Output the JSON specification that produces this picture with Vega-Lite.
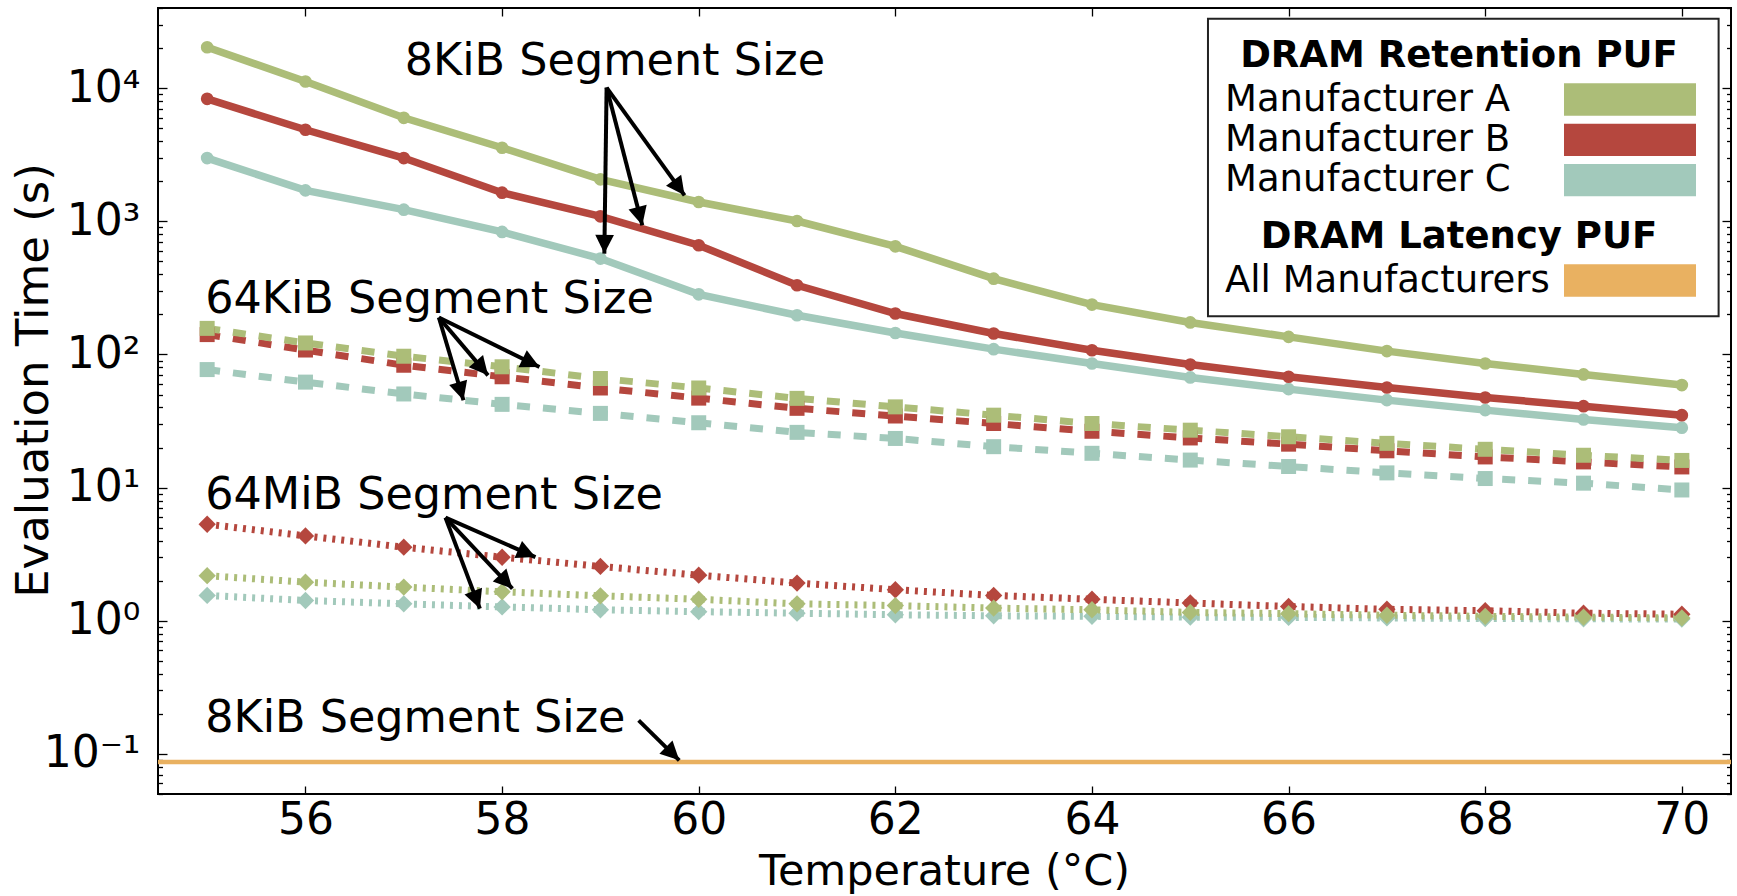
{
  "$schema": "https://vega.github.io/schema/vega-lite/v6.json",
  "usermeta": {"embedOptions": {"actions": false}},
  "width": 1573,
  "height": 786,
  "autosize": {"type": "none"},
  "padding": {"left": 158, "top": 8, "right": 6, "bottom": 102},
  "background": "white",
  "config": {
    "font": "DejaVu Sans",
    "view": {"stroke": "black", "strokeWidth": 2},
    "axis": {"domain": false, "grid": false, "labelFont": "DejaVu Sans", "titleFont": "DejaVu Sans", "tickColor": "black", "tickWidth": 1.3, "labelColor": "black", "titleColor": "black", "titleFontWeight": "normal", "labelOverlap": false, "labelFlush": false, "labelBound": false},
    "legend": {"labelFont": "DejaVu Sans", "titleFont": "DejaVu Sans", "orient": "none", "direction": "vertical", "padding": 0,
      "symbolType": "M-4,-0.98H4V0.98H-4Z", "symbolSize": 1089, "symbolStrokeWidth": 0, "symbolOffset": 390.5, "labelOffset": -423.5,
      "labelFontSize": 37, "labelColor": "black", "labelLimit": 1000, "titleFontSize": 37, "titleFontWeight": "bold", "titleColor": "black",
      "titleAnchor": "middle", "titleLimit": 1000, "titlePadding": 6, "rowPadding": 2.3, "symbolOpacity": 1}
  },
  "datasets": {
    "series": [
      {"mfr": "Manufacturer C", "seg": "64MiB", "temp": 55, "time": 1.55},
      {"mfr": "Manufacturer C", "seg": "64MiB", "temp": 56, "time": 1.42},
      {"mfr": "Manufacturer C", "seg": "64MiB", "temp": 57, "time": 1.34},
      {"mfr": "Manufacturer C", "seg": "64MiB", "temp": 58, "time": 1.27},
      {"mfr": "Manufacturer C", "seg": "64MiB", "temp": 59, "time": 1.21},
      {"mfr": "Manufacturer C", "seg": "64MiB", "temp": 60, "time": 1.17},
      {"mfr": "Manufacturer C", "seg": "64MiB", "temp": 61, "time": 1.14},
      {"mfr": "Manufacturer C", "seg": "64MiB", "temp": 62, "time": 1.11},
      {"mfr": "Manufacturer C", "seg": "64MiB", "temp": 63, "time": 1.09},
      {"mfr": "Manufacturer C", "seg": "64MiB", "temp": 64, "time": 1.08},
      {"mfr": "Manufacturer C", "seg": "64MiB", "temp": 65, "time": 1.065},
      {"mfr": "Manufacturer C", "seg": "64MiB", "temp": 66, "time": 1.06},
      {"mfr": "Manufacturer C", "seg": "64MiB", "temp": 67, "time": 1.05},
      {"mfr": "Manufacturer C", "seg": "64MiB", "temp": 68, "time": 1.04},
      {"mfr": "Manufacturer C", "seg": "64MiB", "temp": 69, "time": 1.035},
      {"mfr": "Manufacturer C", "seg": "64MiB", "temp": 70, "time": 1.03},
      {"mfr": "Manufacturer B", "seg": "64MiB", "temp": 55, "time": 5.31},
      {"mfr": "Manufacturer B", "seg": "64MiB", "temp": 56, "time": 4.34},
      {"mfr": "Manufacturer B", "seg": "64MiB", "temp": 57, "time": 3.57},
      {"mfr": "Manufacturer B", "seg": "64MiB", "temp": 58, "time": 3.0},
      {"mfr": "Manufacturer B", "seg": "64MiB", "temp": 59, "time": 2.56},
      {"mfr": "Manufacturer B", "seg": "64MiB", "temp": 60, "time": 2.2},
      {"mfr": "Manufacturer B", "seg": "64MiB", "temp": 61, "time": 1.92},
      {"mfr": "Manufacturer B", "seg": "64MiB", "temp": 62, "time": 1.71},
      {"mfr": "Manufacturer B", "seg": "64MiB", "temp": 63, "time": 1.55},
      {"mfr": "Manufacturer B", "seg": "64MiB", "temp": 64, "time": 1.45},
      {"mfr": "Manufacturer B", "seg": "64MiB", "temp": 65, "time": 1.36},
      {"mfr": "Manufacturer B", "seg": "64MiB", "temp": 66, "time": 1.28},
      {"mfr": "Manufacturer B", "seg": "64MiB", "temp": 67, "time": 1.22},
      {"mfr": "Manufacturer B", "seg": "64MiB", "temp": 68, "time": 1.19},
      {"mfr": "Manufacturer B", "seg": "64MiB", "temp": 69, "time": 1.14},
      {"mfr": "Manufacturer B", "seg": "64MiB", "temp": 70, "time": 1.12},
      {"mfr": "Manufacturer A", "seg": "64MiB", "temp": 55, "time": 2.18},
      {"mfr": "Manufacturer A", "seg": "64MiB", "temp": 56, "time": 1.95},
      {"mfr": "Manufacturer A", "seg": "64MiB", "temp": 57, "time": 1.79},
      {"mfr": "Manufacturer A", "seg": "64MiB", "temp": 58, "time": 1.65},
      {"mfr": "Manufacturer A", "seg": "64MiB", "temp": 59, "time": 1.54},
      {"mfr": "Manufacturer A", "seg": "64MiB", "temp": 60, "time": 1.45},
      {"mfr": "Manufacturer A", "seg": "64MiB", "temp": 61, "time": 1.34},
      {"mfr": "Manufacturer A", "seg": "64MiB", "temp": 62, "time": 1.30},
      {"mfr": "Manufacturer A", "seg": "64MiB", "temp": 63, "time": 1.245},
      {"mfr": "Manufacturer A", "seg": "64MiB", "temp": 64, "time": 1.21},
      {"mfr": "Manufacturer A", "seg": "64MiB", "temp": 65, "time": 1.155},
      {"mfr": "Manufacturer A", "seg": "64MiB", "temp": 66, "time": 1.13},
      {"mfr": "Manufacturer A", "seg": "64MiB", "temp": 67, "time": 1.10},
      {"mfr": "Manufacturer A", "seg": "64MiB", "temp": 68, "time": 1.08},
      {"mfr": "Manufacturer A", "seg": "64MiB", "temp": 69, "time": 1.065},
      {"mfr": "Manufacturer A", "seg": "64MiB", "temp": 70, "time": 1.05},
      {"mfr": "Manufacturer C", "seg": "64KiB", "temp": 55, "time": 77},
      {"mfr": "Manufacturer C", "seg": "64KiB", "temp": 56, "time": 62},
      {"mfr": "Manufacturer C", "seg": "64KiB", "temp": 57, "time": 50.5},
      {"mfr": "Manufacturer C", "seg": "64KiB", "temp": 58, "time": 42.2},
      {"mfr": "Manufacturer C", "seg": "64KiB", "temp": 59, "time": 36.1},
      {"mfr": "Manufacturer C", "seg": "64KiB", "temp": 60, "time": 30.7},
      {"mfr": "Manufacturer C", "seg": "64KiB", "temp": 61, "time": 26},
      {"mfr": "Manufacturer C", "seg": "64KiB", "temp": 62, "time": 23.4},
      {"mfr": "Manufacturer C", "seg": "64KiB", "temp": 63, "time": 20.3},
      {"mfr": "Manufacturer C", "seg": "64KiB", "temp": 64, "time": 18.1},
      {"mfr": "Manufacturer C", "seg": "64KiB", "temp": 65, "time": 16.1},
      {"mfr": "Manufacturer C", "seg": "64KiB", "temp": 66, "time": 14.4},
      {"mfr": "Manufacturer C", "seg": "64KiB", "temp": 67, "time": 12.9},
      {"mfr": "Manufacturer C", "seg": "64KiB", "temp": 68, "time": 11.7},
      {"mfr": "Manufacturer C", "seg": "64KiB", "temp": 69, "time": 10.8},
      {"mfr": "Manufacturer C", "seg": "64KiB", "temp": 70, "time": 9.6},
      {"mfr": "Manufacturer B", "seg": "64KiB", "temp": 55, "time": 141},
      {"mfr": "Manufacturer B", "seg": "64KiB", "temp": 56, "time": 108},
      {"mfr": "Manufacturer B", "seg": "64KiB", "temp": 57, "time": 83},
      {"mfr": "Manufacturer B", "seg": "64KiB", "temp": 58, "time": 68},
      {"mfr": "Manufacturer B", "seg": "64KiB", "temp": 59, "time": 56},
      {"mfr": "Manufacturer B", "seg": "64KiB", "temp": 60, "time": 47},
      {"mfr": "Manufacturer B", "seg": "64KiB", "temp": 61, "time": 39.4},
      {"mfr": "Manufacturer B", "seg": "64KiB", "temp": 62, "time": 34.5},
      {"mfr": "Manufacturer B", "seg": "64KiB", "temp": 63, "time": 30.3},
      {"mfr": "Manufacturer B", "seg": "64KiB", "temp": 64, "time": 26.5},
      {"mfr": "Manufacturer B", "seg": "64KiB", "temp": 65, "time": 23.6},
      {"mfr": "Manufacturer B", "seg": "64KiB", "temp": 66, "time": 21.2},
      {"mfr": "Manufacturer B", "seg": "64KiB", "temp": 67, "time": 18.9},
      {"mfr": "Manufacturer B", "seg": "64KiB", "temp": 68, "time": 17.0},
      {"mfr": "Manufacturer B", "seg": "64KiB", "temp": 69, "time": 15.6},
      {"mfr": "Manufacturer B", "seg": "64KiB", "temp": 70, "time": 14.3},
      {"mfr": "Manufacturer A", "seg": "64KiB", "temp": 55, "time": 157},
      {"mfr": "Manufacturer A", "seg": "64KiB", "temp": 56, "time": 122},
      {"mfr": "Manufacturer A", "seg": "64KiB", "temp": 57, "time": 97},
      {"mfr": "Manufacturer A", "seg": "64KiB", "temp": 58, "time": 80.8},
      {"mfr": "Manufacturer A", "seg": "64KiB", "temp": 59, "time": 66},
      {"mfr": "Manufacturer A", "seg": "64KiB", "temp": 60, "time": 56},
      {"mfr": "Manufacturer A", "seg": "64KiB", "temp": 61, "time": 46.8},
      {"mfr": "Manufacturer A", "seg": "64KiB", "temp": 62, "time": 40.4},
      {"mfr": "Manufacturer A", "seg": "64KiB", "temp": 63, "time": 35},
      {"mfr": "Manufacturer A", "seg": "64KiB", "temp": 64, "time": 30.3},
      {"mfr": "Manufacturer A", "seg": "64KiB", "temp": 65, "time": 27},
      {"mfr": "Manufacturer A", "seg": "64KiB", "temp": 66, "time": 24.1},
      {"mfr": "Manufacturer A", "seg": "64KiB", "temp": 67, "time": 21.5},
      {"mfr": "Manufacturer A", "seg": "64KiB", "temp": 68, "time": 19.4},
      {"mfr": "Manufacturer A", "seg": "64KiB", "temp": 69, "time": 17.5},
      {"mfr": "Manufacturer A", "seg": "64KiB", "temp": 70, "time": 16.0},
      {"mfr": "Manufacturer C", "seg": "8KiB", "temp": 55, "time": 2985},
      {"mfr": "Manufacturer C", "seg": "8KiB", "temp": 56, "time": 1708},
      {"mfr": "Manufacturer C", "seg": "8KiB", "temp": 57, "time": 1223},
      {"mfr": "Manufacturer C", "seg": "8KiB", "temp": 58, "time": 832},
      {"mfr": "Manufacturer C", "seg": "8KiB", "temp": 59, "time": 525},
      {"mfr": "Manufacturer C", "seg": "8KiB", "temp": 60, "time": 283},
      {"mfr": "Manufacturer C", "seg": "8KiB", "temp": 61, "time": 197},
      {"mfr": "Manufacturer C", "seg": "8KiB", "temp": 62, "time": 145},
      {"mfr": "Manufacturer C", "seg": "8KiB", "temp": 63, "time": 109.6},
      {"mfr": "Manufacturer C", "seg": "8KiB", "temp": 64, "time": 85.6},
      {"mfr": "Manufacturer C", "seg": "8KiB", "temp": 65, "time": 67.2},
      {"mfr": "Manufacturer C", "seg": "8KiB", "temp": 66, "time": 54.9},
      {"mfr": "Manufacturer C", "seg": "8KiB", "temp": 67, "time": 45.4},
      {"mfr": "Manufacturer C", "seg": "8KiB", "temp": 68, "time": 38.2},
      {"mfr": "Manufacturer C", "seg": "8KiB", "temp": 69, "time": 32.5},
      {"mfr": "Manufacturer C", "seg": "8KiB", "temp": 70, "time": 28.2},
      {"mfr": "Manufacturer B", "seg": "8KiB", "temp": 55, "time": 8318},
      {"mfr": "Manufacturer B", "seg": "8KiB", "temp": 56, "time": 4870},
      {"mfr": "Manufacturer B", "seg": "8KiB", "temp": 57, "time": 2985},
      {"mfr": "Manufacturer B", "seg": "8KiB", "temp": 58, "time": 1641},
      {"mfr": "Manufacturer B", "seg": "8KiB", "temp": 59, "time": 1090},
      {"mfr": "Manufacturer B", "seg": "8KiB", "temp": 60, "time": 661},
      {"mfr": "Manufacturer B", "seg": "8KiB", "temp": 61, "time": 331},
      {"mfr": "Manufacturer B", "seg": "8KiB", "temp": 62, "time": 203},
      {"mfr": "Manufacturer B", "seg": "8KiB", "temp": 63, "time": 143.7},
      {"mfr": "Manufacturer B", "seg": "8KiB", "temp": 64, "time": 107.6},
      {"mfr": "Manufacturer B", "seg": "8KiB", "temp": 65, "time": 84},
      {"mfr": "Manufacturer B", "seg": "8KiB", "temp": 66, "time": 68},
      {"mfr": "Manufacturer B", "seg": "8KiB", "temp": 67, "time": 56.5},
      {"mfr": "Manufacturer B", "seg": "8KiB", "temp": 68, "time": 47.5},
      {"mfr": "Manufacturer B", "seg": "8KiB", "temp": 69, "time": 40.9},
      {"mfr": "Manufacturer B", "seg": "8KiB", "temp": 70, "time": 35.0},
      {"mfr": "Manufacturer A", "seg": "8KiB", "temp": 55, "time": 20300},
      {"mfr": "Manufacturer A", "seg": "8KiB", "temp": 56, "time": 11220},
      {"mfr": "Manufacturer A", "seg": "8KiB", "temp": 57, "time": 5990},
      {"mfr": "Manufacturer A", "seg": "8KiB", "temp": 58, "time": 3570},
      {"mfr": "Manufacturer A", "seg": "8KiB", "temp": 59, "time": 2065},
      {"mfr": "Manufacturer A", "seg": "8KiB", "temp": 60, "time": 1396},
      {"mfr": "Manufacturer A", "seg": "8KiB", "temp": 61, "time": 1005},
      {"mfr": "Manufacturer A", "seg": "8KiB", "temp": 62, "time": 649},
      {"mfr": "Manufacturer A", "seg": "8KiB", "temp": 63, "time": 371},
      {"mfr": "Manufacturer A", "seg": "8KiB", "temp": 64, "time": 237},
      {"mfr": "Manufacturer A", "seg": "8KiB", "temp": 65, "time": 174},
      {"mfr": "Manufacturer A", "seg": "8KiB", "temp": 66, "time": 135.5},
      {"mfr": "Manufacturer A", "seg": "8KiB", "temp": 67, "time": 106},
      {"mfr": "Manufacturer A", "seg": "8KiB", "temp": 68, "time": 85.6},
      {"mfr": "Manufacturer A", "seg": "8KiB", "temp": 69, "time": 70.8},
      {"mfr": "Manufacturer A", "seg": "8KiB", "temp": 70, "time": 58.9}
    ],
    "latency": [{"puf": "All Manufacturers", "time": 0.087}],
    "notes": [
      {"label": "8KiB Segment Size", "temp": 57.01, "time": 12490},
      {"label": "64KiB Segment Size", "temp": 54.98, "time": 204},
      {"label": "64MiB Segment Size", "temp": 54.98, "time": 6.95},
      {"label": "8KiB Segment Size", "temp": 54.98, "time": 0.146}
    ],
    "arrows": [
      {"temp": 59.063, "time": 10095, "temp2": 59.856, "time2": 1567},
      {"temp": 59.063, "time": 10095, "temp2": 59.426, "time2": 933},
      {"temp": 59.063, "time": 10095, "temp2": 59.04, "time2": 572},
      {"temp": 57.357, "time": 189.4, "temp2": 58.38, "time2": 80.5},
      {"temp": 57.357, "time": 189.4, "temp2": 57.857, "time2": 69.7},
      {"temp": 57.357, "time": 189.4, "temp2": 57.607, "time2": 45.3},
      {"temp": 57.424, "time": 5.95, "temp2": 58.339, "time2": 3.01},
      {"temp": 57.424, "time": 5.95, "temp2": 58.105, "time2": 1.743},
      {"temp": 57.424, "time": 5.95, "temp2": 57.774, "time2": 1.234},
      {"temp": 59.389, "time": 0.1788, "temp2": 59.802, "time2": 0.0895}
    ]
  },
  "layer": [
    {
      "data": {"name": "latency"},
      "mark": {"type": "rule", "strokeWidth": 4.5},
      "encoding": {
        "y": {"field": "time", "type": "quantitative", "scale": {"type": "log", "domain": [0.05, 40000], "nice": false}, "axis": null},
        "stroke": {"field": "puf", "type": "nominal", "scale": {"domain": ["All Manufacturers"], "range": ["#e9b161"]},
          "legend": {"title": "DRAM Latency PUF", "orient": "none", "legendX": 1063, "legendY": 211,
            "encode": {"symbols": {"update": {"fill": {"value": "#e9b161"}, "stroke": {"value": "transparent"}, "opacity": {"value": 1}}}}}}
      }
    },
    {
      "data": {"name": "series"},
      "transform": [{"filter": "datum.seg == '64MiB'"}],
      "mark": {"type": "line", "strokeWidth": 7, "strokeDash": [3, 6], "strokeCap": "butt"},
      "encoding": {
        "x": {"field": "temp", "type": "quantitative", "scale": {"domain": [54.5, 70.5], "nice": false, "zero": false}, "axis": null},
        "y": {"field": "time", "type": "quantitative", "scale": {"type": "log", "domain": [0.05, 40000], "nice": false}, "axis": null},
        "color": {"field": "mfr", "type": "nominal", "scale": {"domain": ["Manufacturer A", "Manufacturer B", "Manufacturer C"], "range": ["#acbd78", "#b5473e", "#a2c9bb"]},
          "legend": {"title": "DRAM Retention PUF", "orient": "none", "legendX": 1063, "legendY": 30, "encode": {"symbols": {"update": {"fill": {"scale": "color", "field": "value"}, "stroke": {"value": "transparent"}, "opacity": {"value": 1}}}}}}
      }
    },
    {
      "data": {"name": "series"},
      "transform": [{"filter": "datum.seg == '64MiB'"}],
      "mark": {"type": "point", "shape": "diamond", "filled": true, "size": 300, "opacity": 1, "strokeWidth": 0},
      "encoding": {
        "x": {"field": "temp", "type": "quantitative", "scale": {"domain": [54.5, 70.5], "nice": false, "zero": false}, "axis": null},
        "y": {"field": "time", "type": "quantitative", "scale": {"type": "log", "domain": [0.05, 40000], "nice": false}, "axis": null},
        "color": {"field": "mfr", "type": "nominal", "scale": {"domain": ["Manufacturer A", "Manufacturer B", "Manufacturer C"], "range": ["#acbd78", "#b5473e", "#a2c9bb"]},
          "legend": {"title": "DRAM Retention PUF", "orient": "none", "legendX": 1063, "legendY": 30, "encode": {"symbols": {"update": {"fill": {"scale": "color", "field": "value"}, "stroke": {"value": "transparent"}, "opacity": {"value": 1}}}}}}
      }
    },
    {
      "data": {"name": "series"},
      "transform": [{"filter": "datum.seg == '64KiB'"}],
      "mark": {"type": "line", "strokeWidth": 7, "strokeDash": [13, 13], "strokeCap": "butt"},
      "encoding": {
        "x": {"field": "temp", "type": "quantitative", "scale": {"domain": [54.5, 70.5], "nice": false, "zero": false}, "axis": null},
        "y": {"field": "time", "type": "quantitative", "scale": {"type": "log", "domain": [0.05, 40000], "nice": false}, "axis": null},
        "color": {"field": "mfr", "type": "nominal", "scale": {"domain": ["Manufacturer A", "Manufacturer B", "Manufacturer C"], "range": ["#acbd78", "#b5473e", "#a2c9bb"]},
          "legend": {"title": "DRAM Retention PUF", "orient": "none", "legendX": 1063, "legendY": 30, "encode": {"symbols": {"update": {"fill": {"scale": "color", "field": "value"}, "stroke": {"value": "transparent"}, "opacity": {"value": 1}}}}}}
      }
    },
    {
      "data": {"name": "series"},
      "transform": [{"filter": "datum.seg == '64KiB'"}],
      "mark": {"type": "point", "shape": "square", "filled": true, "size": 225, "opacity": 1, "strokeWidth": 0},
      "encoding": {
        "x": {"field": "temp", "type": "quantitative", "scale": {"domain": [54.5, 70.5], "nice": false, "zero": false}, "axis": null},
        "y": {"field": "time", "type": "quantitative", "scale": {"type": "log", "domain": [0.05, 40000], "nice": false}, "axis": null},
        "color": {"field": "mfr", "type": "nominal", "scale": {"domain": ["Manufacturer A", "Manufacturer B", "Manufacturer C"], "range": ["#acbd78", "#b5473e", "#a2c9bb"]},
          "legend": {"title": "DRAM Retention PUF", "orient": "none", "legendX": 1063, "legendY": 30, "encode": {"symbols": {"update": {"fill": {"scale": "color", "field": "value"}, "stroke": {"value": "transparent"}, "opacity": {"value": 1}}}}}}
      }
    },
    {
      "data": {"name": "series"},
      "transform": [{"filter": "datum.seg == '8KiB'"}],
      "mark": {"type": "line", "strokeWidth": 7.5},
      "encoding": {
        "x": {"field": "temp", "type": "quantitative", "scale": {"domain": [54.5, 70.5], "nice": false, "zero": false},
          "axis": {"orient": "bottom", "values": [56, 58, 60, 62, 64, 66, 68, 70], "format": "d", "tickSize": -8, "labelPadding": 12, "labelFontSize": 44,
            "title": "Temperature (°C)", "titleFontSize": 43, "titleX": 786, "titleY": 90, "titleBaseline": "alphabetic"}},
        "y": {"field": "time", "type": "quantitative", "scale": {"type": "log", "domain": [0.05, 40000], "nice": false},
          "axis": {"orient": "left",
            "values": [0.05, 0.06, 0.07, 0.08, 0.09, 0.1, 0.2, 0.3, 0.4, 0.5, 0.6, 0.7, 0.8, 0.9, 1, 2, 3, 4, 5, 6, 7, 8, 9, 10, 20, 30, 40, 50, 60, 70, 80, 90, 100, 200, 300, 400, 500, 600, 700, 800, 900, 1000, 2000, 3000, 4000, 5000, 6000, 7000, 8000, 9000, 10000, 20000, 30000, 40000],
            "labelExpr": "abs(log(datum.value)/LN10 - round(log(datum.value)/LN10)) < 0.001 ? ['10⁻²','10⁻¹','10⁰','10¹','10²','10³','10⁴'][round(log(datum.value)/LN10) + 2] : ''",
            "tickSize": {"condition": {"test": "abs(log(datum.value)/LN10 - round(log(datum.value)/LN10)) < 0.001", "value": -9}, "value": -4.5},
            "labelPadding": 27, "labelFontSize": 44,
            "title": "Evaluation Time (s)", "titleFontSize": 45, "titleX": -111, "titleY": 372, "titleBaseline": "alphabetic"}},
        "color": {"field": "mfr", "type": "nominal", "scale": {"domain": ["Manufacturer A", "Manufacturer B", "Manufacturer C"], "range": ["#acbd78", "#b5473e", "#a2c9bb"]},
          "legend": {"title": "DRAM Retention PUF", "orient": "none", "legendX": 1063, "legendY": 30, "encode": {"symbols": {"update": {"fill": {"scale": "color", "field": "value"}, "stroke": {"value": "transparent"}, "opacity": {"value": 1}}}}}}
      }
    },
    {
      "data": {"name": "series"},
      "transform": [{"filter": "datum.seg == '8KiB'"}],
      "mark": {"type": "point", "shape": "circle", "filled": true, "size": 160, "opacity": 1, "strokeWidth": 0},
      "encoding": {
        "x": {"field": "temp", "type": "quantitative", "scale": {"domain": [54.5, 70.5], "nice": false, "zero": false},
          "axis": {"orient": "top", "values": [56, 58, 60, 62, 64, 66, 68, 70], "tickSize": -8, "labels": false, "title": null}},
        "y": {"field": "time", "type": "quantitative", "scale": {"type": "log", "domain": [0.05, 40000], "nice": false},
          "axis": {"orient": "right",
            "values": [0.05, 0.06, 0.07, 0.08, 0.09, 0.1, 0.2, 0.3, 0.4, 0.5, 0.6, 0.7, 0.8, 0.9, 1, 2, 3, 4, 5, 6, 7, 8, 9, 10, 20, 30, 40, 50, 60, 70, 80, 90, 100, 200, 300, 400, 500, 600, 700, 800, 900, 1000, 2000, 3000, 4000, 5000, 6000, 7000, 8000, 9000, 10000, 20000, 30000, 40000],
            "tickSize": {"condition": {"test": "abs(log(datum.value)/LN10 - round(log(datum.value)/LN10)) < 0.001", "value": -9}, "value": -4.5},
            "labels": false, "title": null}},
        "color": {"field": "mfr", "type": "nominal", "scale": {"domain": ["Manufacturer A", "Manufacturer B", "Manufacturer C"], "range": ["#acbd78", "#b5473e", "#a2c9bb"]},
          "legend": {"title": "DRAM Retention PUF", "orient": "none", "legendX": 1063, "legendY": 30, "encode": {"symbols": {"update": {"fill": {"scale": "color", "field": "value"}, "stroke": {"value": "transparent"}, "opacity": {"value": 1}}}}}}
      }
    },
    {
      "data": {"values": [{}]},
      "mark": {"type": "rect", "fill": "white", "stroke": "#222222", "strokeWidth": 2},
      "encoding": {
        "x": {"datum": 65.18, "type": "quantitative", "scale": {"domain": [54.5, 70.5], "nice": false, "zero": false}, "axis": null},
        "x2": {"datum": 70.374},
        "y": {"datum": 33270, "type": "quantitative", "scale": {"type": "log", "domain": [0.05, 40000], "nice": false}, "axis": null},
        "y2": {"datum": 193.4}
      }
    },
    {
      "data": {"name": "notes"},
      "mark": {"type": "text", "align": "left", "baseline": "alphabetic", "fontSize": 44.5, "font": "DejaVu Sans", "color": "black"},
      "encoding": {
        "x": {"field": "temp", "type": "quantitative", "scale": {"domain": [54.5, 70.5], "nice": false, "zero": false}, "axis": null},
        "y": {"field": "time", "type": "quantitative", "scale": {"type": "log", "domain": [0.05, 40000], "nice": false}, "axis": null},
        "text": {"field": "label"}
      }
    },
    {
      "data": {"name": "arrows"},
      "mark": {"type": "rule", "strokeWidth": 4, "color": "black"},
      "encoding": {
        "x": {"field": "temp", "type": "quantitative", "scale": {"domain": [54.5, 70.5], "nice": false, "zero": false}, "axis": null},
        "y": {"field": "time", "type": "quantitative", "scale": {"type": "log", "domain": [0.05, 40000], "nice": false}, "axis": null},
        "x2": {"field": "temp2"},
        "y2": {"field": "time2"}
      }
    },
    {
      "data": {"name": "arrows"},
      "mark": {"type": "point", "shape": "M0,0L-0.5,1L0.5,1Z", "filled": true, "size": 1400, "opacity": 1, "strokeWidth": 0, "color": "black",
        "angle": {"expr": "atan2(scale('x', datum.temp2) - scale('x', datum.temp), scale('y', datum.time) - scale('y', datum.time2)) * 180 / PI"}},
      "encoding": {
        "x": {"field": "temp2", "type": "quantitative", "scale": {"domain": [54.5, 70.5], "nice": false, "zero": false}, "axis": null},
        "y": {"field": "time2", "type": "quantitative", "scale": {"type": "log", "domain": [0.05, 40000], "nice": false}, "axis": null}
      }
    }
  ],
  "resolve": {"axis": {"x": "independent", "y": "independent"}}
}
